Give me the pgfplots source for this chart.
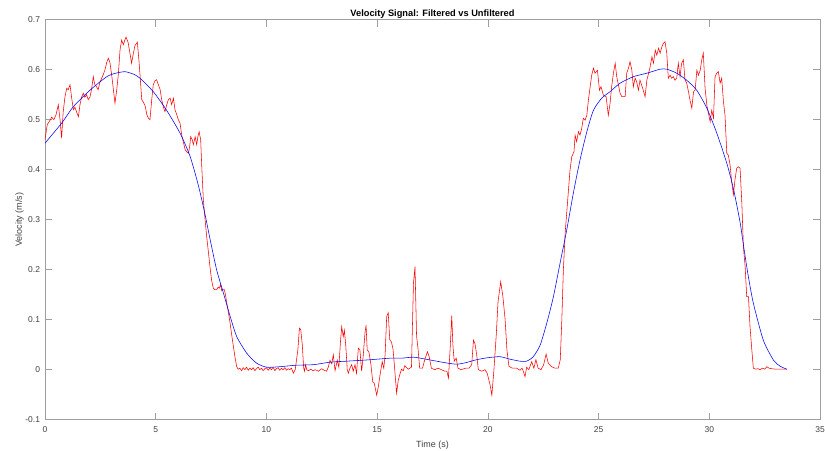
\documentclass[border=0pt]{standalone}
\usepackage{pgfplots}
\pgfplotsset{compat=1.18}
\usepackage{fontspec}
\setmainfont{Liberation Sans}
\definecolor{axgray}{gray}{0.62}
\definecolor{txtgray}{gray}{0.25}
\begin{document}
\begin{tikzpicture}
\begin{axis}[
  scale only axis,
  width=775bp, height=400bp,
  xmin=0, xmax=35, ymin=-0.1, ymax=0.7,
  xtick={0,5,...,35},
  ytick={-0.1,0,0.1,0.2,0.3,0.4,0.5,0.6,0.7},
  yticklabels={-0.1,0,0.1,0.2,0.3,0.4,0.5,0.6,0.7},
  tick align=inside, tick pos=both,
  major tick length=7bp,
  axis line style={axgray, line width=0.8bp},
  every tick/.style={axgray, line width=0.7bp},
  /pgf/number format/assume math mode=true,
  tick label style={font=\fontsize{8.5}{10}\selectfont, text=txtgray},
  xticklabel style={anchor=base, yshift=-13bp},
  yticklabel style={anchor=east, xshift=-1.5bp},
  title={Velocity Signal: Filtered vs Unfiltered},
  title style={at={(axis description cs:0.5,1)}, anchor=base, yshift=-3bp, font=\bfseries\fontsize{9.3}{11}\selectfont, text=black},
  xlabel={Time (s)},
  xlabel style={at={(axis description cs:0.5,0)}, anchor=base, yshift=-27.5bp, font=\fontsize{9}{11}\selectfont, text=txtgray},
  ylabel={Velocity (m/s)},
  ylabel style={at={(axis description cs:-0.0297,0.5)}, anchor=base, font=\fontsize{9}{11}\selectfont, text=txtgray},
  clip=true,
]
\addplot[red, line width=0.55bp] coordinates {
(0.00,0.460)(0.10,0.490)(0.23,0.499)(0.30,0.505)(0.40,0.500)(0.50,0.510)(0.60,0.530)(0.68,0.500)(0.75,0.463)(0.82,0.515)(0.90,0.545)(0.98,0.563)(1.05,0.560)(1.13,0.570)(1.20,0.545)(1.28,0.520)(1.35,0.525)(1.43,0.515)(1.51,0.506)(1.58,0.530)(1.65,0.545)(1.73,0.553)(1.80,0.545)(1.88,0.550)(1.95,0.540)(2.03,0.545)(2.10,0.560)(2.18,0.586)(2.25,0.570)(2.33,0.566)(2.40,0.560)(2.48,0.575)(2.56,0.583)(2.63,0.590)(2.71,0.600)(2.79,0.615)(2.86,0.623)(2.93,0.615)(3.01,0.590)(3.09,0.560)(3.16,0.533)(3.24,0.560)(3.31,0.590)(3.39,0.640)(3.46,0.659)(3.54,0.650)(3.61,0.660)(3.66,0.665)(3.75,0.655)(3.81,0.640)(3.91,0.613)(3.98,0.630)(4.06,0.648)(4.17,0.655)(4.24,0.620)(4.29,0.590)(4.37,0.540)(4.44,0.535)(4.52,0.528)(4.60,0.510)(4.67,0.503)(4.74,0.500)(4.82,0.540)(4.89,0.570)(4.97,0.578)(5.04,0.580)(5.12,0.570)(5.20,0.560)(5.27,0.540)(5.35,0.525)(5.42,0.516)(5.50,0.530)(5.57,0.540)(5.65,0.543)(5.72,0.530)(5.80,0.543)(5.87,0.520)(5.95,0.510)(6.02,0.500)(6.10,0.493)(6.17,0.470)(6.25,0.455)(6.33,0.440)(6.40,0.436)(6.48,0.433)(6.53,0.445)(6.58,0.466)(6.65,0.460)(6.70,0.450)(6.78,0.466)(6.85,0.450)(6.90,0.465)(6.96,0.476)(7.03,0.460)(7.08,0.406)(7.15,0.340)(7.23,0.300)(7.30,0.267)(7.38,0.235)(7.45,0.206)(7.52,0.180)(7.60,0.163)(7.67,0.160)(7.75,0.160)(7.82,0.165)(7.87,0.163)(7.93,0.170)(7.98,0.158)(8.03,0.160)(8.10,0.160)(8.15,0.150)(8.21,0.133)(8.28,0.115)(8.36,0.093)(8.43,0.070)(8.51,0.046)(8.58,0.025)(8.66,0.006)(8.72,0.001)
(8.80,0.003)(8.88,-0.002)(8.95,0.004)(9.03,0.000)(9.10,0.005)(9.18,-0.001)(9.25,0.003)(9.33,0.000)(9.40,0.004)(9.48,-0.002)(9.55,0.002)(9.63,0.005)(9.70,0.000)(9.78,0.003)(9.85,-0.002)(9.93,0.002)(10.00,0.004)(10.08,-0.001)(10.15,0.003)(10.23,0.000)(10.30,0.005)(10.38,-0.002)(10.45,0.002)(10.53,0.004)(10.60,-0.001)(10.68,0.003)(10.75,0.000)(10.83,0.004)(10.90,-0.001)(10.98,0.002)(11.05,0.000)(11.13,0.003)
(11.22,-0.007)(11.30,0.000)(11.42,0.040)(11.49,0.083)(11.55,0.080)(11.62,0.050)(11.68,0.004)(11.72,-0.003)(11.77,0.010)(11.82,0.000)(11.90,-0.002)(12.00,0.001)(12.10,-0.002)(12.20,0.000)(12.35,-0.003)(12.50,0.002)(12.60,-0.001)(12.72,-0.003)(12.80,0.006)(12.87,0.019)(12.95,0.012)(13.02,0.030)(13.10,-0.002)(13.20,0.019)(13.27,0.005)(13.35,0.060)(13.40,0.086)(13.47,0.066)(13.52,0.079)(13.58,0.050)(13.65,0.000)(13.70,-0.007)(13.77,0.003)(13.85,0.010)(13.92,-0.003)(14.00,0.010)(14.07,-0.007)(14.15,0.043)(14.22,0.040)(14.30,-0.003)(14.37,0.027)(14.45,0.073)(14.50,0.089)(14.55,0.040)(14.63,0.035)(14.72,0.010)(14.80,-0.024)(14.87,-0.027)(14.98,-0.051)(15.05,-0.035)(15.15,-0.005)(15.23,0.016)(15.30,0.003)(15.36,0.030)(15.43,0.106)(15.50,0.114)(15.57,0.060)(15.65,0.055)(15.72,0.040)(15.80,-0.003)(15.88,-0.047)(15.95,-0.022)(16.03,-0.009)(16.10,0.001)(16.18,-0.002)(16.25,0.008)(16.40,0.001)(16.55,0.005)(16.64,0.173)(16.71,0.206)(16.78,0.068)(16.85,0.040)(16.92,0.003)(17.05,0.003)(17.15,0.020)(17.27,0.036)(17.35,0.026)(17.45,0.003)(17.60,0.000)(17.75,0.003)(17.90,0.000)(18.05,-0.003)(18.15,-0.003)(18.22,-0.017)(18.30,0.045)(18.37,0.108)(18.42,0.050)(18.48,0.017)(18.57,0.023)(18.65,0.003)(18.80,0.000)(19.00,0.003)(19.15,0.003)(19.27,0.010)(19.35,0.059)(19.42,0.052)(19.50,0.028)(19.57,0.000)(19.72,-0.003)(19.87,0.000)(19.97,-0.007)(20.10,-0.030)(20.18,-0.051)(20.27,-0.003)(20.38,0.070)(20.46,0.136)(20.58,0.176)(20.68,0.146)(20.78,0.100)(20.86,0.040)(20.95,0.007)(21.10,0.003)(21.30,0.003)(21.45,-0.001)(21.55,0.003)(21.68,-0.014)(21.75,0.005)(21.85,0.000)(21.98,0.016)(22.08,0.003)(22.17,0.020)(22.27,0.003)(22.40,0.000)(22.52,0.010)(22.63,0.031)(22.73,0.013)(22.88,0.006)(23.03,0.003)(23.18,0.003)(23.27,0.020)
(23.34,0.099)(23.41,0.199)(23.49,0.273)(23.56,0.313)(23.64,0.359)(23.71,0.399)(23.79,0.426)(23.89,0.436)(23.94,0.469)(24.01,0.456)(24.09,0.476)(24.16,0.469)(24.24,0.483)(24.31,0.503)(24.39,0.499)(24.47,0.509)(24.54,0.539)(24.62,0.566)(24.69,0.589)(24.77,0.603)(24.84,0.593)(24.95,0.599)(25.04,0.559)(25.11,0.566)(25.22,0.549)(25.34,0.546)(25.44,0.509)(25.52,0.533)(25.59,0.566)(25.67,0.593)(25.75,0.613)(25.82,0.586)(25.90,0.569)(25.97,0.553)(26.05,0.546)(26.20,0.546)(26.27,0.593)(26.35,0.603)(26.42,0.616)(26.50,0.600)(26.57,0.566)(26.65,0.583)(26.72,0.576)(26.80,0.559)(26.87,0.579)(26.99,0.563)(27.10,0.546)(27.18,0.579)(27.26,0.593)(27.33,0.606)(27.41,0.626)(27.48,0.613)(27.56,0.639)(27.63,0.629)(27.71,0.643)(27.78,0.633)(27.86,0.646)(27.93,0.653)(28.00,0.656)(28.08,0.633)(28.15,0.583)(28.23,0.589)(28.30,0.583)(28.38,0.586)(28.45,0.579)(28.53,0.583)(28.60,0.613)(28.68,0.586)(28.75,0.613)(28.83,0.620)(28.90,0.580)(28.98,0.573)(29.06,0.556)(29.13,0.539)(29.21,0.523)(29.29,0.556)(29.36,0.559)(29.44,0.599)(29.51,0.589)(29.59,0.599)(29.66,0.620)(29.73,0.633)(29.81,0.563)(29.89,0.529)(29.96,0.513)(30.04,0.496)(30.11,0.519)(30.19,0.503)(30.26,0.586)(30.34,0.593)(30.41,0.596)(30.49,0.573)(30.56,0.583)(30.64,0.536)(30.71,0.509)(30.79,0.433)(30.86,0.429)(30.94,0.409)(31.01,0.376)(31.09,0.350)(31.16,0.380)(31.24,0.403)(31.32,0.406)(31.39,0.403)(31.47,0.333)(31.54,0.246)(31.62,0.206)(31.69,0.146)(31.77,0.146)(31.84,0.086)(31.92,0.040)(31.99,0.003)
(32.10,0.001)(32.20,0.002)(32.30,0.000)(32.40,0.003)(32.50,0.001)(32.60,0.006)(32.70,0.003)(32.80,0.002)(33.00,0.001)(33.20,0.001)(33.50,0.001)
};
\addplot[blue, line width=0.55bp, smooth, tension=0.4] coordinates {
(0,0.453)(0.75,0.493)(1.28,0.526)(2.03,0.559)(2.79,0.586)(3.20,0.593)(3.61,0.596)(4.00,0.591)(4.29,0.583)(4.89,0.556)(5.49,0.519)(6.10,0.473)(6.55,0.427)(6.93,0.368)(7.23,0.310)(7.45,0.262)(7.75,0.200)(8.06,0.153)(8.36,0.107)(8.66,0.066)(9.11,0.033)(9.56,0.013)(10.01,0.005)(10.61,0.006)(11.36,0.009)(12.12,0.010)(12.87,0.015)(13.60,0.017)(14.38,0.019)(15.00,0.021)(15.58,0.023)(16.10,0.023)(16.64,0.025)(17.20,0.021)(17.69,0.017)(18.20,0.013)(18.60,0.011)(19.00,0.014)(19.50,0.020)(20.00,0.024)(20.55,0.026)(21.00,0.021)(21.45,0.017)(21.75,0.017)(22.05,0.026)(22.36,0.049)(22.66,0.093)(22.96,0.146)(23.26,0.213)(23.56,0.279)(23.86,0.353)(24.16,0.419)(24.47,0.476)(24.77,0.519)(25.14,0.543)(25.52,0.556)(25.97,0.573)(26.57,0.586)(27.18,0.593)(27.78,0.601)(28.08,0.601)(28.53,0.593)(28.98,0.579)(29.43,0.559)(29.89,0.523)(30.34,0.473)(30.79,0.413)(31.09,0.362)(31.39,0.295)(31.54,0.250)(31.75,0.190)(31.99,0.133)(32.44,0.059)(32.90,0.019)(33.20,0.007)(33.50,0.001)
};
\end{axis}
\pgfresetboundingbox
\path ([xshift=-45bp,yshift=-31.3bp]current axis.south west) rectangle ([xshift=5bp,yshift=19.7bp]current axis.north east);
\end{tikzpicture}
\end{document}
